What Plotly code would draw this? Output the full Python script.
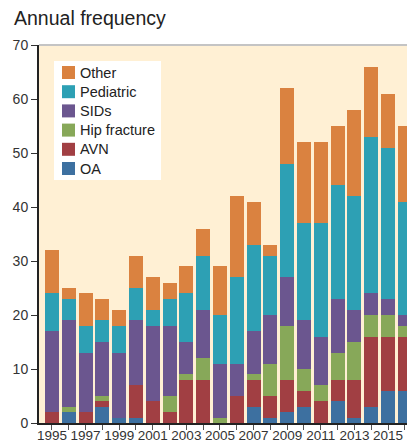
import plotly.graph_objects as go

years = list(range(1995, 2017))
tick_labels = [str(y) if (y - 1995) % 2 == 0 else "" for y in years]

oa =        [0, 2, 0, 3, 1, 1, 0, 0, 0, 0, 0, 0, 3, 1, 2, 3, 0, 4, 1, 3, 6, 6]
avn =       [2, 0, 2, 1, 0, 6, 4, 2, 8, 8, 0, 5, 5, 4, 6, 3, 4, 4, 7, 13, 10, 10]
hip =       [0, 1, 0, 1, 0, 0, 0, 3, 1, 4, 1, 0, 1, 6, 10, 4, 3, 5, 7, 4, 4, 2]
sids =      [15, 16, 11, 10, 12, 12, 14, 13, 6, 9, 10, 6, 8, 9, 9, 9, 9, 10, 6, 4, 3, 2]
pediatric = [7, 4, 5, 4, 5, 6, 3, 5, 9, 10, 9, 16, 16, 11, 21, 18, 21, 21, 21, 29, 28, 21]
other =     [8, 2, 6, 4, 3, 6, 6, 3, 5, 5, 9, 15, 8, 2, 14, 15, 15, 11, 16, 13, 10, 14]

series = [
    ("OA", oa, "#3D70A0"),
    ("AVN", avn, "#A13F43"),
    ("Hip fracture", hip, "#87A859"),
    ("SIDs", sids, "#6B568F"),
    ("Pediatric", pediatric, "#2DA0B4"),
    ("Other", other, "#DA8240"),
]

W, H = 407, 442
ML, MR, MT, MB = 39, 0, 45, 19
PW, PH = W - ML - MR, H - MT - MB

def px_x(x):
    return (x - ML) / PW

def px_y(y):
    return 1 - (y - MT) / PH

fig = go.Figure()
for name, vals, color in series:
    fig.add_trace(go.Bar(x=years, y=vals, name=name, showlegend=False,
                         marker=dict(color=color, line=dict(width=0))))

# Legend (drawn as a white box with swatches and labels, top item = Other)
fig.add_shape(type="rect", xref="paper", yref="paper",
              x0=px_x(54), x1=px_x(161), y0=px_y(180), y1=px_y(61),
              fillcolor="white", line=dict(width=0), layer="above")
for i, (name, vals, color) in enumerate(reversed(series)):
    top = 66 + 19.2 * i
    fig.add_shape(type="rect", xref="paper", yref="paper",
                  x0=px_x(62), x1=px_x(75), y0=px_y(top + 13), y1=px_y(top),
                  fillcolor=color, line=dict(width=0), layer="above")
    fig.add_annotation(text=name, xref="paper", yref="paper", x=px_x(78), y=px_y(top + 6.5),
                       xanchor="left", yanchor="middle", showarrow=False,
                       font=dict(size=14.5, color="#222"))

fig.update_layout(
    width=W, height=H,
    barmode="stack", bargap=0.17,
    margin=dict(l=ML, r=MR, t=MT, b=MB, autoexpand=False),
    paper_bgcolor="white",
    plot_bgcolor="#FFF0D4",
    font=dict(family="Liberation Sans, Arial, sans-serif", size=14, color="#333"),
    title=dict(text="Annual frequency", x=14/W, xanchor="left", xref="container",
               y=1 - 18/H, yanchor="middle", yref="container",
               font=dict(size=19.5, color="#222")),
    showlegend=False,
)
fig.update_xaxes(range=[1994.23, 2016.13], tickmode="array", tickvals=years, ticktext=tick_labels,
                 ticks="outside", ticklen=5, tickcolor="#555", showline=True, linecolor="#222",
                 linewidth=2, showgrid=False, zeroline=False, automargin=False,
                 ticklabelstandoff=-6,
                 tickfont=dict(size=13.5, color="#333"))
fig.update_yaxes(range=[0, 70], dtick=10, ticks="outside", ticklen=6, tickcolor="#333",
                 showline=True, linecolor="#222", linewidth=2, showgrid=False, zeroline=False,
                 automargin=False, tickfont=dict(size=14, color="#333"))
fig.add_shape(type="line", xref="paper", yref="paper", x0=0, x1=1, y0=1, y1=1,
              line=dict(color="#C4C4C4", width=2))

fig.write_html("out.html", config={"displayModeBar": False},
               post_script="document.body.style.margin='0px';")
